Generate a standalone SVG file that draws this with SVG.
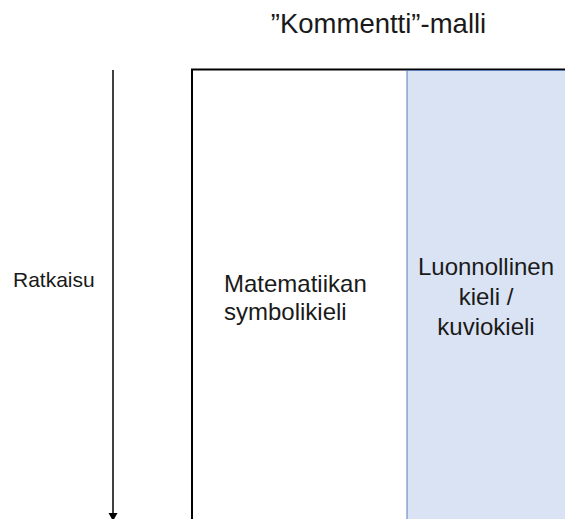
<svg xmlns="http://www.w3.org/2000/svg" width="565" height="519" viewBox="0 0 565 519">
<style>
text{font-family:"Liberation Sans",Arial,sans-serif;fill:#1a1a1a}
</style>
<defs>
<marker id="ah" markerWidth="10" markerHeight="10" refX="8" refY="4.5" orient="auto" markerUnits="userSpaceOnUse">
<path d="M0,0 L8,4.5 L0,9 z" fill="#000"/>
</marker>
</defs>
<rect width="565" height="519" fill="#fff"/>
<text x="378.5" y="33" font-size="27.5" text-anchor="middle">”Kommentti”-malli</text>
<g id="connectors">
<line x1="113" y1="70" x2="113" y2="521" stroke="#000" stroke-width="1.5" marker-end="url(#ah)"/>
</g>
<g id="ratkaisu">
<text x="13" y="287" font-size="21">Ratkaisu</text>
</g>
<g id="frame">
<path d="M192,530 V69.5 H570" fill="none" stroke="#000" stroke-width="2"/>
</g>
<g id="symbolikieli">
<text x="224" y="292" font-size="24">Matematiikan</text>
<text x="224" y="320" font-size="24">symbolikieli</text>
</g>
<g id="luonnollinen">
<rect x="407" y="70.5" width="170" height="460" fill="#DAE3F3" stroke="#5B7CBA" stroke-width="1"/>
<text x="486" y="275" font-size="24" text-anchor="middle">Luonnollinen</text>
<text x="486" y="305" font-size="24" text-anchor="middle">kieli /</text>
<text x="486" y="335" font-size="24" text-anchor="middle">kuviokieli</text>
</g>
</svg>
